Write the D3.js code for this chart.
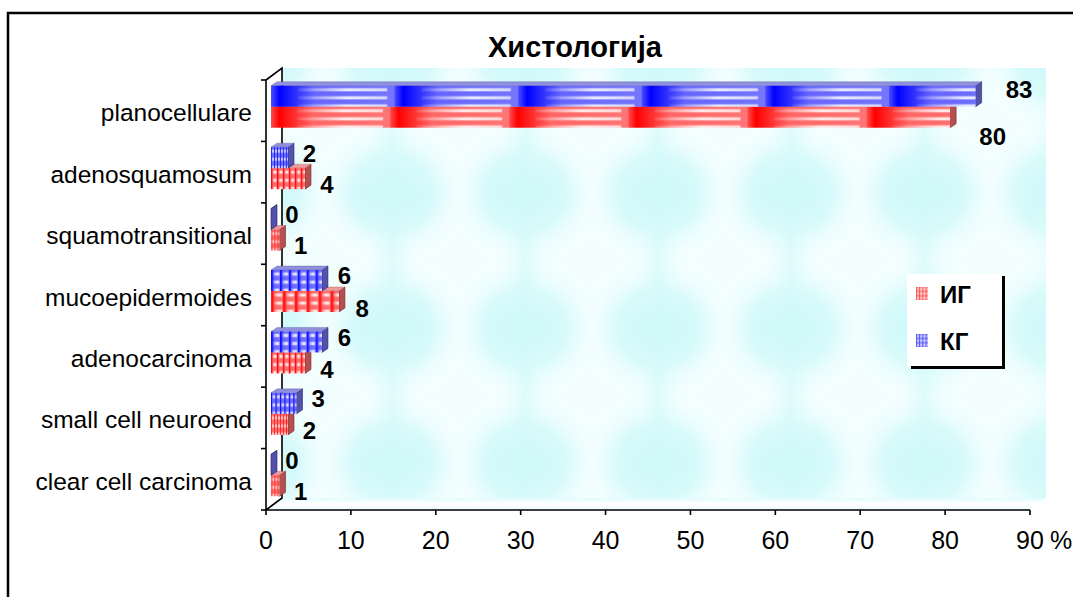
<!DOCTYPE html>
<html>
<head>
<meta charset="utf-8">
<script src="https://cdn.jsdelivr.net/npm/d3@7/dist/d3.min.js"></script>
<style>
  html, body { margin: 0; padding: 0; background: #ffffff; }
  svg { display: block; font-family: "Liberation Sans", Arial, sans-serif; }
</style>
</head>
<body>
<svg id="chart" width="1073" height="597"></svg>
<script>
// Histology distribution, ИГ vs КГ (percent)
const titleText = "Хистологија";
const categories = [
  "planocellulare",
  "adenosquamosum",
  "squamotransitional",
  "mucoepidermoides",
  "adenocarcinoma",
  "small cell neuroend",
  "clear cell carcinoma"
];
const seriesNames = ["ИГ", "КГ"];
const igValues = [80, 4, 1, 8, 4, 2, 1];
const kgValues = [83, 2, 0, 6, 6, 3, 0];
const xTicks = [0, 10, 20, 30, 40, 50, 60, 70, 80, 90];
const axisUnit = "%";

const svg = d3.select("#chart");
const defs = svg.append("defs");

// 3D box geometry
const depth = { dx: 16, dy: -12 };      // wall depth
const barDepth = { dx: 6, dy: -4 };     // bar thickness in depth
const barShift = { dx: 5, dy: -4 };     // bars sit part-way into the box
const barH = 21;

const x = d3.scaleLinear().domain([0, 90]).range([266, 1030]);
const y = d3.scaleBand().domain(categories).range([80, 510]);

const palette = {
  "ИГ": { base: "#ff0000", top: "#ec9a9a", side: "#b45050", edge: "#7a2020" },
  "КГ": { base: "#0000ff", top: "#9090dc", side: "#5252ac", edge: "#20206e" }
};

// outer chart frame
svg.append("rect")
  .attr("x", 8).attr("y", 13).attr("width", 1100).attr("height", 640)
  .attr("fill", "#ffffff").attr("stroke", "#000").attr("stroke-width", 2.5);

// ---- wall texture ----
const blob = defs.append("radialGradient").attr("id", "blob");
blob.append("stop").attr("offset", 0).attr("stop-color", "#c6f7f9");
blob.append("stop").attr("offset", 0.5).attr("stop-color", "#d8fafb");
blob.append("stop").attr("offset", 1).attr("stop-color", "#ffffff").attr("stop-opacity", 0);

const tileW = 133, tileH = 135;
const wallPat = defs.append("pattern").attr("id", "wallTex")
  .attr("patternUnits", "userSpaceOnUse")
  .attr("x", 325.5).attr("y", 125.5)
  .attr("width", tileW).attr("height", tileH);
wallPat.append("rect").attr("width", tileW).attr("height", tileH).attr("fill", "#f2fefe");
wallPat.append("ellipse")
  .attr("cx", tileW / 2).attr("cy", tileH / 2)
  .attr("rx", tileW * 0.62).attr("ry", tileH * 0.56)
  .attr("fill", "url(#blob)");
// soft vertical streak through each tile
const streak = defs.append("linearGradient").attr("id", "streak");
streak.append("stop").attr("offset", 0).attr("stop-color", "#e4fcfc").attr("stop-opacity", 0);
streak.append("stop").attr("offset", 0.5).attr("stop-color", "#d2f9fa").attr("stop-opacity", 0.6);
streak.append("stop").attr("offset", 1).attr("stop-color", "#e4fcfc").attr("stop-opacity", 0);
wallPat.append("rect").attr("x", tileW * 0.3).attr("width", tileW * 0.4).attr("height", tileH)
  .attr("fill", "url(#streak)");

const floorGrad = defs.append("linearGradient").attr("id", "floorGrad")
  .attr("x1", 0).attr("y1", 0).attr("x2", 0).attr("y2", 1);
floorGrad.append("stop").attr("offset", 0).attr("stop-color", "#e2fbfc");
floorGrad.append("stop").attr("offset", 0.5).attr("stop-color", "#ffffff");
floorGrad.append("stop").attr("offset", 1).attr("stop-color", "#ecfcfd");

// cell overlays used by bar textures
const fadeH = defs.append("linearGradient").attr("id", "fadeH");
fadeH.append("stop").attr("offset", 0).attr("stop-color", "#fff").attr("stop-opacity", 0.3);
fadeH.append("stop").attr("offset", 0.07).attr("stop-color", "#fff").attr("stop-opacity", 0);
fadeH.append("stop").attr("offset", 0.35).attr("stop-color", "#fff").attr("stop-opacity", 0.4);
fadeH.append("stop").attr("offset", 1).attr("stop-color", "#fff").attr("stop-opacity", 0.46);
const stripeH = defs.append("linearGradient").attr("id", "stripeH");
stripeH.append("stop").attr("offset", 0).attr("stop-color", "#fff").attr("stop-opacity", 0.1);
stripeH.append("stop").attr("offset", 0.55).attr("stop-color", "#fff").attr("stop-opacity", 0.85);
stripeH.append("stop").attr("offset", 1).attr("stop-color", "#fff").attr("stop-opacity", 0.7);

function makeTexture(id, color, ox, oy, cw, ch) {
  const p = defs.append("pattern").attr("id", id)
    .attr("patternUnits", "userSpaceOnUse")
    .attr("x", ox).attr("y", oy).attr("width", cw).attr("height", ch);
  p.append("rect").attr("width", cw).attr("height", ch).attr("fill", color);
  p.append("rect").attr("width", cw).attr("height", ch).attr("fill", "url(#fadeH)");
  p.append("rect")
    .attr("x", cw * 0.22).attr("y", ch * 0.3)
    .attr("width", cw * 0.72).attr("height", ch * 0.4)
    .attr("fill", "url(#stripeH)");
  return "url(#" + id + ")";
}

// ---- walls ----
const x0 = x(0), x90 = x(90), yTop = y.range()[0], yBot = y.range()[1];
const pts = a => a.map(p => p.join(",")).join(" ");

// back wall
svg.append("rect")
  .attr("x", x0 + depth.dx).attr("y", yTop + depth.dy)
  .attr("width", x90 - x0).attr("height", yBot - yTop)
  .attr("fill", "url(#wallTex)");
// floor
svg.append("polygon")
  .attr("points", pts([[x0, yBot], [x0 + depth.dx, yBot + depth.dy],
                       [x90 + depth.dx, yBot + depth.dy], [x90, yBot]]))
  .attr("fill", "url(#floorGrad)");
// side wall
svg.append("polygon")
  .attr("points", pts([[x0, yTop], [x0 + depth.dx, yTop + depth.dy],
                       [x0 + depth.dx, yBot + depth.dy], [x0, yBot]]))
  .attr("fill", "#ffffff");

// ---- axes ----
const axisG = svg.append("g").attr("stroke", "#000").attr("stroke-width", 1.6).attr("fill", "none");
axisG.append("path").attr("d",
  `M${x0},${yTop}L${x0},${yBot}` +
  `M${x0},${yTop}L${x0 + depth.dx},${yTop + depth.dy}L${x0 + depth.dx},${yBot + depth.dy}L${x0},${yBot}` +
  `M${x0},${yBot}L${x90},${yBot}`);

// category ticks on the front axis
const catEdges = categories.map(c => y(c)).concat([yBot]);
axisG.selectAll("line.ct").data(catEdges).join("line")
  .attr("x1", x0 - 5).attr("x2", x0).attr("y1", d => d).attr("y2", d => d);
// value ticks
axisG.selectAll("line.vt").data(xTicks).join("line")
  .attr("x1", d => x(d)).attr("x2", d => x(d)).attr("y1", yBot).attr("y2", yBot + 5);

svg.append("g").selectAll("text").data(xTicks).join("text")
  .attr("x", d => x(d)).attr("y", 549)
  .attr("text-anchor", "middle").attr("font-size", 25).attr("fill", "#000")
  .text(d => d);
svg.append("text").attr("x", 1050).attr("y", 549)
  .attr("font-size", 25).attr("fill", "#000").text(axisUnit);

svg.append("g").selectAll("text").data(categories).join("text")
  .attr("x", 252).attr("y", d => y(d) + y.bandwidth() / 2 + 2)
  .attr("dy", "0.35em")
  .attr("text-anchor", "end").attr("font-size", 24.5)
  .attr("fill", "#000")
  .text(d => d);

// ---- bars ----
const barsG = svg.append("g");
function drawBar(series, value, i, top) {
  const pal = palette[series];
  const bx0 = x(0) + barShift.dx;
  const bx1 = x(value) + barShift.dx;
  const w = bx1 - bx0;
  const g = barsG.append("g");
  const dx = barDepth.dx, dy = barDepth.dy;
  // side face
  g.append("polygon")
    .attr("points", pts([[bx1, top], [bx1 + dx, top + dy], [bx1 + dx, top + barH + dy], [bx1, top + barH]]))
    .attr("fill", pal.side).attr("stroke", pal.edge).attr("stroke-width", 0.6);
  // top face
  g.append("polygon")
    .attr("points", pts([[bx0, top], [bx0 + dx, top + dy], [bx1 + dx, top + dy], [bx1, top]]))
    .attr("fill", pal.top).attr("stroke", pal.edge).attr("stroke-width", 0.4).attr("stroke-opacity", 0.6);
  if (w > 0.5) {
    const fill = makeTexture(`tex-${series === "ИГ" ? "ig" : "kg"}-${i}`, pal.base, bx0, top, w / 5.7, barH / 2.6);
    g.append("rect")
      .attr("x", bx0).attr("y", top).attr("width", w).attr("height", barH)
      .attr("fill", fill);
  }
}

categories.forEach((c, i) => {
  const mid = y(c) + y.bandwidth() / 2 + barShift.dy;
  drawBar("ИГ", igValues[i], i, mid);
  drawBar("КГ", kgValues[i], i, mid - barH);
});

// value labels
const labelG = svg.append("g").attr("font-weight", "bold").attr("font-size", 24)
  .attr("text-anchor", "middle").attr("fill", "#000");
categories.forEach((c, i) => {
  const center = y(c) + y.bandwidth() / 2;
  const kv = kgValues[i], iv = igValues[i];
  labelG.append("text")
    .attr("x", x(kv) + 26 + 0.27 * kv).attr("y", center - 19 - 0.03 * kv)
    .attr("dy", "0.36em").text(kv);
  labelG.append("text")
    .attr("x", x(iv) + 26 + 0.27 * iv).attr("y", center + 12 + 0.17 * iv)
    .attr("dy", "0.36em").text(iv);
});

// ---- legend ----
const lg = svg.append("g");
lg.append("rect").attr("x", 907).attr("y", 274).attr("width", 96).attr("height", 93).attr("fill", "#ffffff");
lg.append("rect").attr("x", 1002).attr("y", 276).attr("width", 3).attr("height", 93).attr("fill", "#000");
lg.append("rect").attr("x", 911).attr("y", 366).attr("width", 94).attr("height", 3).attr("fill", "#000");
const legendRows = [294, 341];
seriesNames.forEach((s, k) => {
  const cy = legendRows[k];
  const fill = makeTexture(`leg-${k}`, palette[s].base, 916, cy - 7, 3.2, 4.4);
  lg.append("rect").attr("x", 916).attr("y", cy - 7).attr("width", 12).attr("height", 13)
    .attr("fill", fill).attr("opacity", 0.75);
  lg.append("text").attr("x", 940).attr("y", cy).attr("dy", "0.36em")
    .attr("font-weight", "bold").attr("font-size", 24).attr("fill", "#000").text(s);
});

// ---- title ----
svg.append("text")
  .attr("x", 575).attr("y", 57)
  .attr("text-anchor", "middle").attr("font-weight", "bold").attr("font-size", 29)
  .attr("fill", "#000").text(titleText);
</script>
</body>
</html>
